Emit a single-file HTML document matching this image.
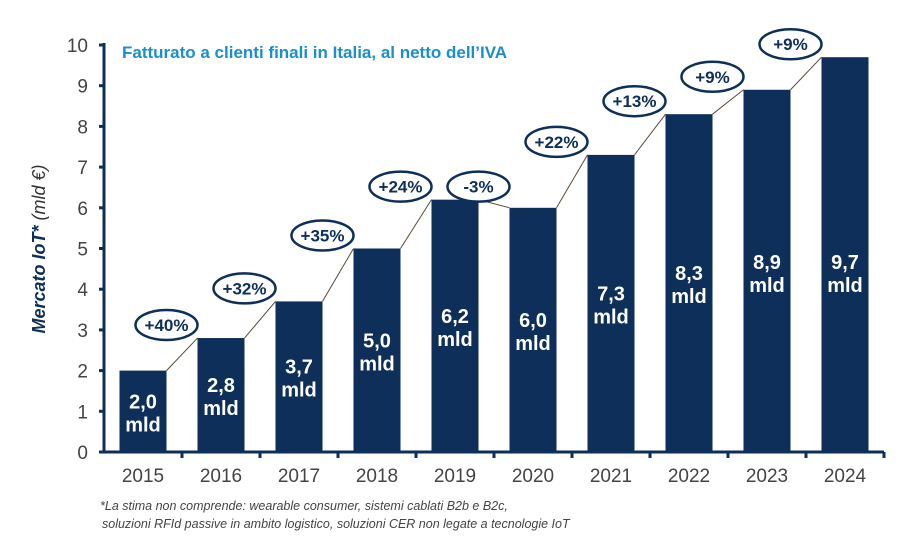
<!DOCTYPE html>
<html><head><meta charset="utf-8"><style>
html,body{margin:0;padding:0;background:#fff;}
svg{display:block;font-family:"Liberation Sans",sans-serif;}
</style></head><body>
<svg id="chart" width="910" height="559" viewBox="0 0 910 559">
<text x="122" y="58" font-size="17" font-weight="bold" fill="#1b8fcb">Fatturato a clienti finali in Italia, al netto dell’IVA</text>
<text transform="translate(45,249) rotate(-90)" text-anchor="middle" font-size="18" fill="#0d2f5a"><tspan font-weight="bold" font-style="italic">Mercato IoT*</tspan><tspan font-style="italic" fill="#333"> (mld €)</tspan></text>
<g id="grid"></g>
<g id="bars"></g>
<g id="labels"></g>
<text x="100" y="510" font-size="12.5" font-style="italic" fill="#444">*La stima non comprende: wearable consumer, sistemi cablati B2b e B2c,</text>
<text x="102" y="528" font-size="12.5" font-style="italic" fill="#444">soluzioni RFId passive in ambito logistico, soluzioni CER non legate a tecnologie IoT</text>
</svg>
<script>
const categories=["2015","2016","2017","2018","2019","2020","2021","2022","2023","2024"];
const values=[2.0,2.8,3.7,5.0,6.2,6.0,7.3,8.3,8.9,9.7];
const valueLabels=["2,0","2,8","3,7","5,0","6,2","6,0","7,3","8,3","8,9","9,7"];
const growthLabels=["+40%","+32%","+35%","+24%","-3%","+22%","+13%","+9%","+9%"];
const yTicks=[0,1,2,3,4,5,6,7,8,9,10];

const NS="http://www.w3.org/2000/svg";
const x0=104,band=78,barW=47,y0=452,yTop=45,ymax=10;
const y=v=>y0-(y0-yTop)*v/ymax;
const bx=i=>x0+band*i+(band-barW)/2;
function mk(tag,attrs,parent,txt){const e=document.createElementNS(NS,tag);for(const k in attrs)e.setAttribute(k,attrs[k]);if(txt!=null)e.textContent=txt;parent.appendChild(e);return e;}
const grid=document.getElementById('grid'),bars=document.getElementById('bars'),labels=document.getElementById('labels');
const C="#0d2f5a";
let ax=mk('line',{x1:x0,y1:yTop-2,x2:x0,y2:y0+1,stroke:C,'stroke-width':3},grid);


let xl=mk('line',{x1:x0-1,y1:y0,x2:x0+band*categories.length,y2:y0,stroke:C,'stroke-width':3},grid);


yTicks.forEach(t=>{
  mk('line',{x1:x0-5,y1:y(t),x2:x0,y2:y(t),stroke:C,'stroke-width':3},grid);
  const tl=mk('text',{x:88,y:y(t)+7,'text-anchor':'end','font-size':19,fill:'#444'},grid,String(t));
  
  
});
categories.forEach((c,i)=>{
  mk('line',{x1:x0+band*(i+1),y1:y0,x2:x0+band*(i+1),y2:y0+6,stroke:C,'stroke-width':3},grid);
  const tl=mk('text',{x:bx(i)+barW/2,y:y0+30,'text-anchor':'middle','font-size':19,fill:'#444'},grid,c);
  
  
  const r=mk('rect',{x:bx(i),y:y(values[i]),width:barW,height:y0-y(values[i]),fill:C},bars);
  
  
  const mid=Math.max((y(values[i])+y0)/2,272);
  const vt=mk('text',{x:bx(i)+barW/2,y:mid-3,'text-anchor':'middle','font-size':20,'font-weight':'bold',fill:'#fff'},labels);
  
  
  mk('tspan',{x:bx(i)+barW/2},vt,valueLabels[i]);
  mk('tspan',{x:bx(i)+barW/2,dy:23},vt,'mld');
});
growthLabels.forEach((g,i)=>{
  const xr=bx(i)+barW,xn=bx(i+1);
  mk('line',{x1:xr,y1:y(values[i]),x2:xn,y2:y(values[i+1]),stroke:'#5a4a3a','stroke-width':1},labels);
  const cy=Math.min(y(values[i+1]),y(values[i]))-13;
  const el=mk('ellipse',{cx:xr,cy:cy,rx:31,ry:15,fill:'#fff',stroke:C,'stroke-width':2.5},labels);
  
  
  const t=mk('text',{x:xr,y:cy+6,'text-anchor':'middle','font-size':17,'font-weight':'bold',fill:C},labels,g);
  
  
});
</script>
</body></html>
